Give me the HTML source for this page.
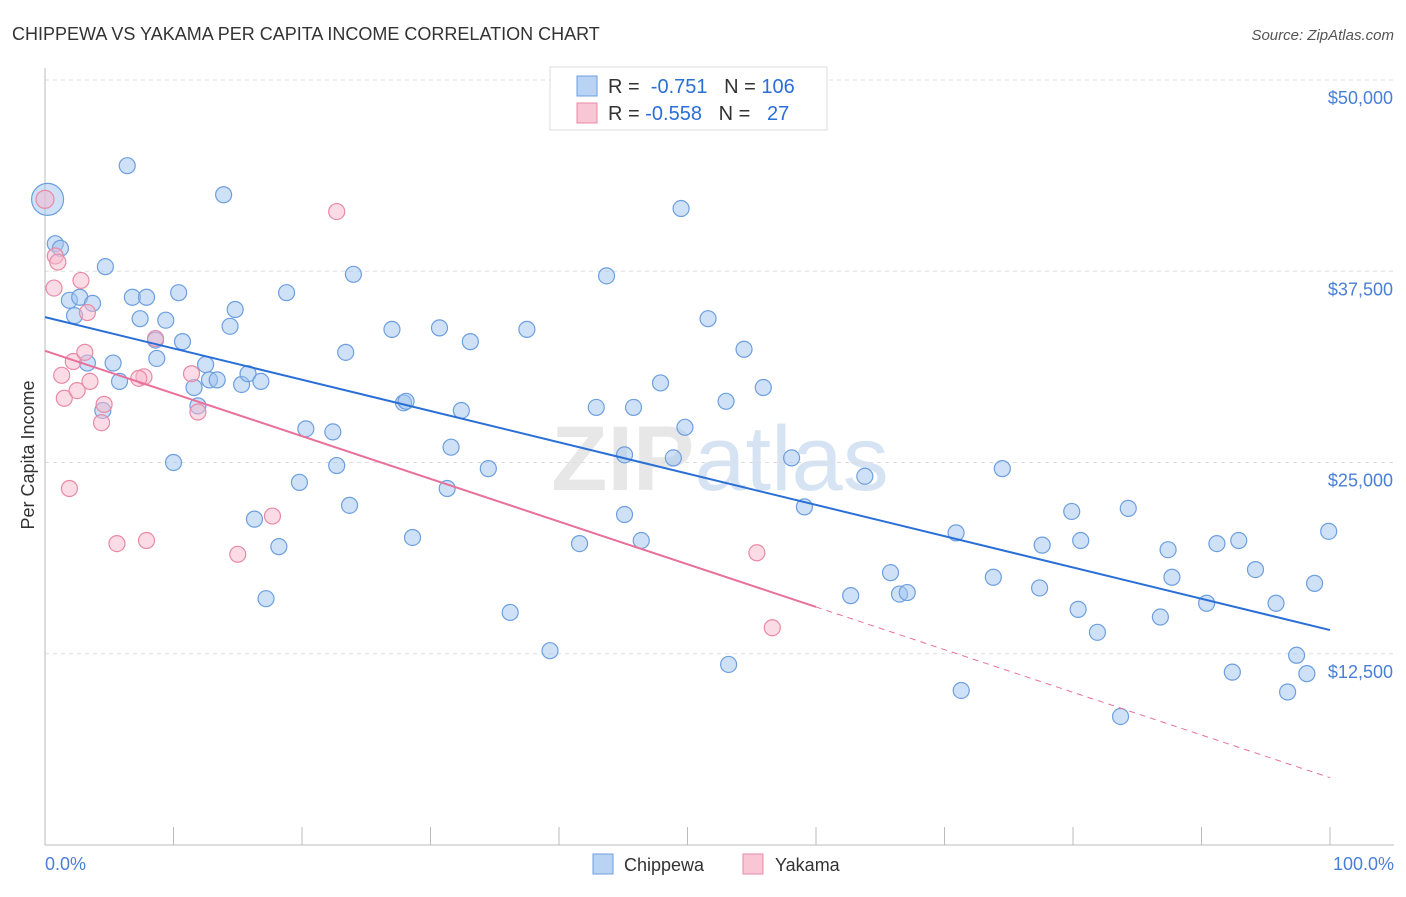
<!DOCTYPE html>
<html><head><meta charset="utf-8"><style>
body{margin:0;background:#fff;font-family:"Liberation Sans",sans-serif;}
svg text{font-family:"Liberation Sans",sans-serif;}
</style></head><body>
<svg id="c" width="1406" height="892">
<text x="12" y="40" font-size="18" fill="#333">CHIPPEWA VS YAKAMA PER CAPITA INCOME CORRELATION CHART</text>
<text x="1394" y="40" font-size="15" fill="#555" text-anchor="end" font-style="italic">Source: ZipAtlas.com</text>
<text x="720" y="490" font-size="92" fill="#ddd" text-anchor="middle" font-weight="bold" opacity="0.7">ZIP<tspan font-weight="normal" fill="#c5d8ee">atlas</tspan></text>
<g id="grid"></g><g id="marks"></g>
<text transform="translate(34,455) rotate(-90)" font-size="18" fill="#333" text-anchor="middle">Per Capita Income</text>
<text x="45" y="870" font-size="18" fill="#4a7fd8">0.0%</text>
<text x="1394" y="870" font-size="18" fill="#4a7fd8" text-anchor="end">100.0%</text>
<g>
<rect x="550" y="67" width="277" height="63" fill="#fff" stroke="#ddd"/>
<rect x="577" y="76" width="20" height="20" fill="#b8d3f4" stroke="#6d9fdf"/>
<rect x="577" y="103" width="20" height="20" fill="#f9c6d5" stroke="#e88aa6"/>
<text x="608" y="93" font-size="20" fill="#333">R = <tspan fill="#2a6fd6">&#160;-0.751</tspan>&#160;&#160;&#160;N = <tspan fill="#2a6fd6">106</tspan></text>
<text x="608" y="120" font-size="20" fill="#333">R = <tspan fill="#2a6fd6">-0.558</tspan>&#160;&#160;&#160;N = <tspan fill="#2a6fd6">&#160;&#160;27</tspan></text>
</g>
<g>
<rect x="593" y="854" width="20" height="20" fill="#b8d3f4" stroke="#6d9fdf"/>
<text x="624" y="871" font-size="18" fill="#333">Chippewa</text>
<rect x="743" y="854" width="20" height="20" fill="#f9c6d5" stroke="#e88aa6"/>
<text x="775" y="871" font-size="18" fill="#333">Yakama</text>
</g>
</svg>
<script>
const yTicks=[12.5,25,37.5,50];
const yTickLabels=["$12,500","$25,000","$37,500","$50,000"];
const xTicks=[0,10,20,30,40,50,60,70,80,90,100];
const blueX=[0.2,0.8,1.2,6.4,13.9,49.5,4.7,1.9,2.7,3.7,6.8,7.9,10.4,18.8,24.0,43.7,2.3,7.4,9.4,14.8,14.4,10.7,8.6,27.0,30.7,33.1,37.5,51.6,54.4,23.4,3.3,5.3,8.7,12.5,5.8,12.8,13.4,15.3,15.8,16.8,11.6,47.9,55.9,27.9,28.1,32.4,42.9,45.8,53.0,4.5,11.9,20.3,22.4,49.8,31.6,10.0,22.7,34.5,45.1,48.9,58.1,63.8,74.5,19.8,31.3,23.7,16.3,59.1,84.3,79.9,45.1,28.6,41.6,46.4,70.9,99.9,77.6,80.6,87.4,91.2,92.9,18.2,65.8,73.8,87.7,94.2,98.8,77.4,62.7,66.5,67.1,17.2,90.4,95.8,36.2,80.4,86.8,81.9,39.3,53.2,92.4,97.4,98.2,71.3,96.7,83.7];
const blueY=[42.2,39.3,39.0,44.4,42.5,41.6,37.8,35.6,35.8,35.4,35.8,35.8,36.1,36.1,37.3,37.2,34.6,34.4,34.3,35.0,33.9,32.9,33.0,33.7,33.8,32.9,33.7,34.4,32.4,32.2,31.5,31.5,31.8,31.4,30.3,30.4,30.4,30.1,30.8,30.3,29.9,30.2,29.9,28.9,29.0,28.4,28.6,28.6,29.0,28.4,28.7,27.2,27.0,27.3,26.0,25.0,24.8,24.6,25.5,25.3,25.3,24.1,24.6,23.7,23.3,22.2,21.3,22.1,22.0,21.8,21.6,20.1,19.7,19.9,20.4,20.5,19.6,19.9,19.3,19.7,19.9,19.5,17.8,17.5,17.5,18.0,17.1,16.8,16.3,16.4,16.5,16.1,15.8,15.8,15.2,15.4,14.9,13.9,12.7,11.8,11.3,12.4,11.2,10.1,10.0,8.4];
const pinkX=[0,0.8,1.0,2.8,0.7,3.3,2.2,3.1,1.3,3.5,1.5,2.5,4.6,4.4,7.7,7.3,8.6,11.4,11.9,22.7,1.9,5.6,7.9,17.7,15.0,55.4,56.6];
const pinkY=[42.2,38.5,38.1,36.9,36.4,34.8,31.6,32.2,30.7,30.3,29.2,29.7,28.8,27.6,30.6,30.5,33.1,30.8,28.3,41.4,23.3,19.7,19.9,21.5,19.0,19.1,14.2];
const blueTrend=[34.5,14.05];
const pinkTrend=[32.3,4.4];
const pinkSolidEnd=60;
const X=v=>45+v*12.85, Y=v=>845-v*15.3;
const NS="http://www.w3.org/2000/svg";
const grid=document.getElementById('grid'), marks=document.getElementById('marks');
function mk(p,tag,a){const e=document.createElementNS(NS,tag);for(const k in a)e.setAttribute(k,a[k]);p.appendChild(e);return e;}
yTicks.forEach((t,i)=>{
 const l=mk(grid,'line',{x1:45,x2:1394,y1:Y(t),y2:Y(t),stroke:'#ddd','stroke-dasharray':'4,4'});
 
 
 const tx=mk(grid,'text',{x:1393,y:Y(t)+24,'font-size':18,fill:'#4a7fd8','text-anchor':'end'});
 tx.textContent=yTickLabels[i];
 
 
});
mk(grid,'line',{x1:45,x2:45,y1:68,y2:845,stroke:'#bbb'});
mk(grid,'line',{x1:45,x2:1394,y1:845,y2:845,stroke:'#bbb'});
xTicks.forEach(t=>{
 const l=mk(grid,'line',{x1:X(t),x2:X(t),y1:827,y2:845,stroke:'#bbb'});
 
 
});
blueX.forEach((x,i)=>{
 const c=mk(marks,'circle',{cx:X(x),cy:Y(blueY[i]),r:i==0?16:8,fill:'rgba(160,196,240,0.5)',stroke:'#6d9fdf','stroke-width':1.2});
 
 
});
pinkX.forEach((x,i)=>{
 const c=mk(marks,'circle',{cx:X(x),cy:Y(pinkY[i]),r:i==0?9:8,fill:'rgba(248,184,204,0.5)',stroke:'#e88aa6','stroke-width':1.2});
 
 
});
const pv=x=>pinkTrend[0]+(pinkTrend[1]-pinkTrend[0])*x/100;
let l=mk(marks,'line',{x1:X(0),y1:Y(blueTrend[0]),x2:X(100),y2:Y(blueTrend[1]),stroke:'#2a6fd6','stroke-width':2});


l=mk(marks,'line',{x1:X(0),y1:Y(pv(0)),x2:X(pinkSolidEnd),y2:Y(pv(pinkSolidEnd)),stroke:'#e8709a','stroke-width':2});


l=mk(marks,'line',{x1:X(pinkSolidEnd),y1:Y(pv(pinkSolidEnd)),x2:X(100),y2:Y(pv(100)),stroke:'#e8709a','stroke-width':1,'stroke-dasharray':'6,5'});


</script>
</body></html>
